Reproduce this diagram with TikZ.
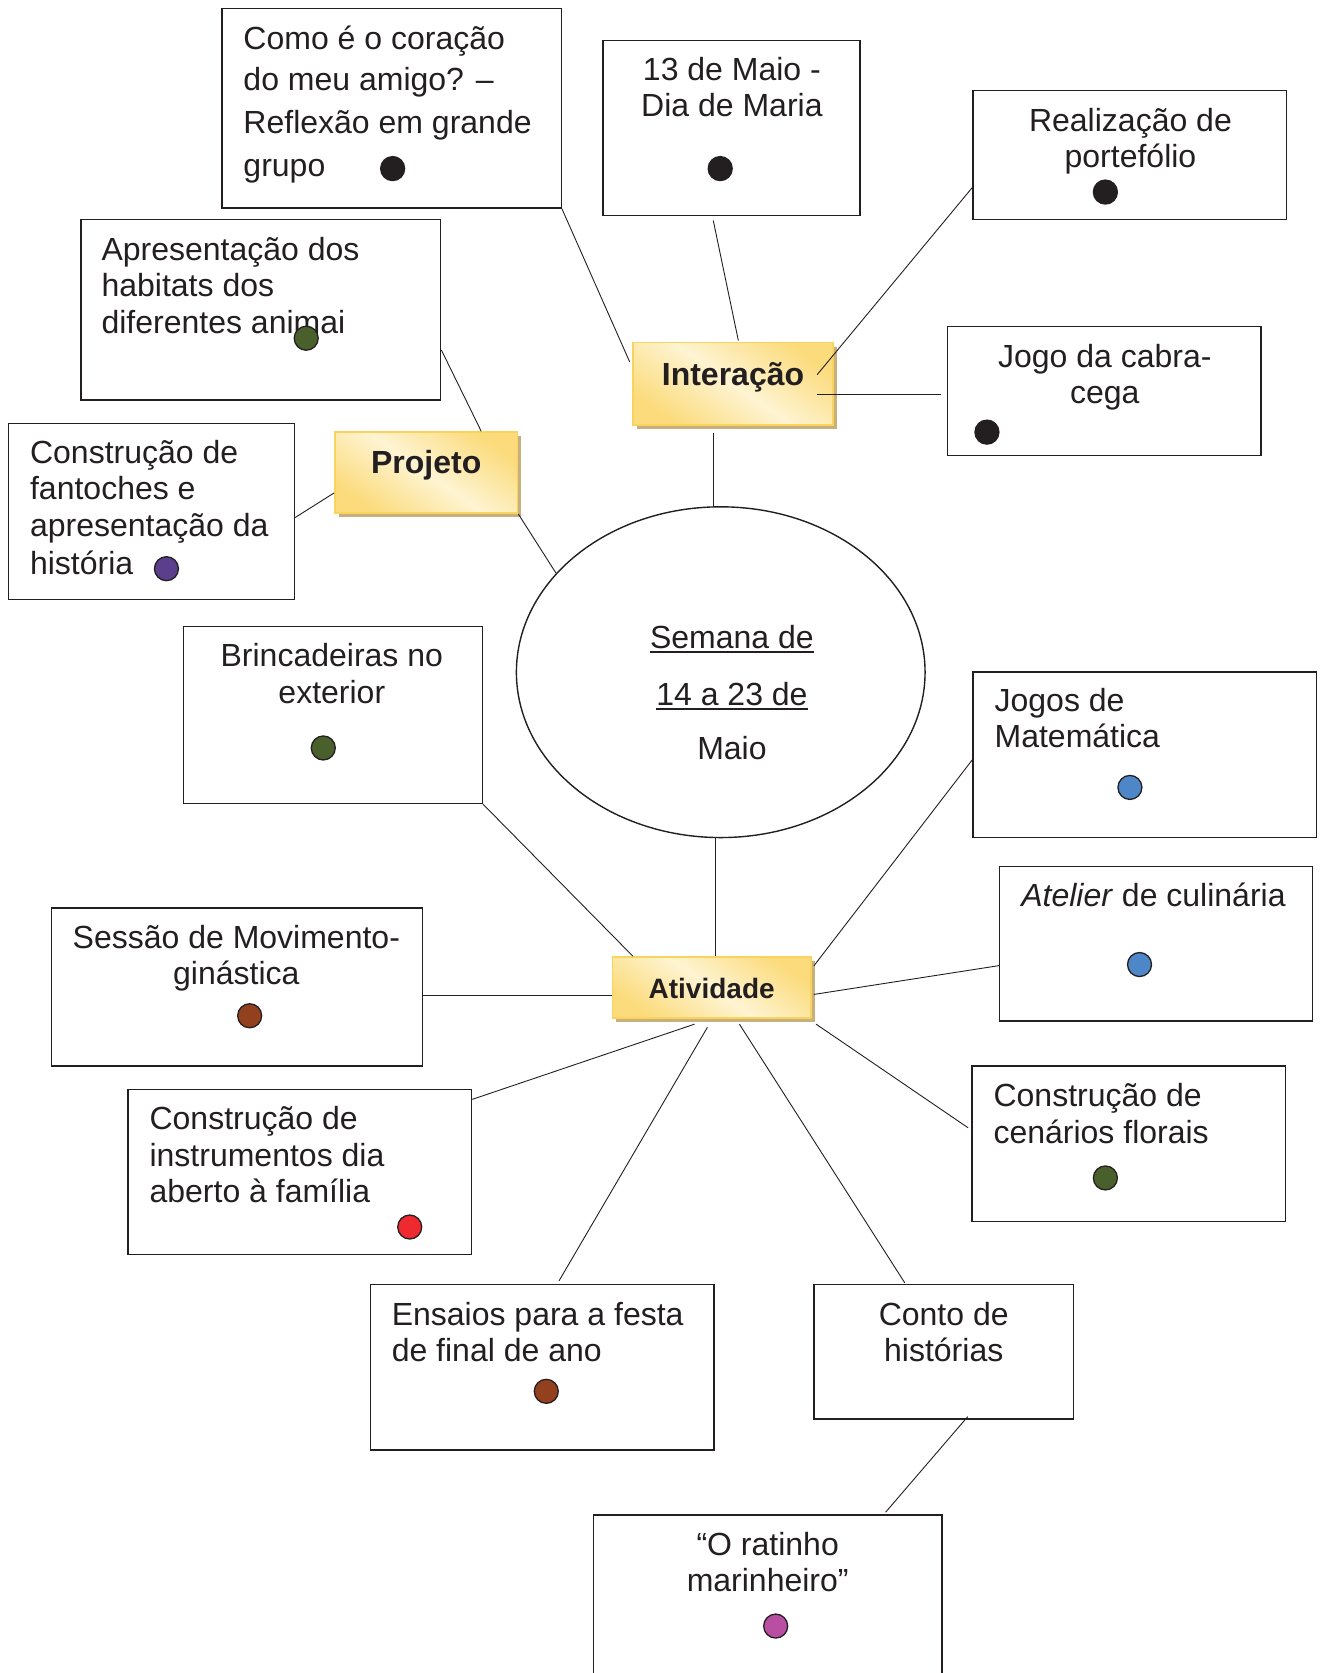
\documentclass[tikz,border=0pt]{standalone}
\usepackage{fontspec}
\setmainfont{Liberation Sans}
\usetikzlibrary{fit,shapes.geometric,shadows,calc}
\definecolor{ink}{HTML}{231F20}
\definecolor{ygold}{HTML}{F8D35E}
\definecolor{ypale}{HTML}{FEF4D2}
\definecolor{ydeep}{HTML}{FBDB7C}
\definecolor{ytan}{HTML}{C8B07C}
\definecolor{dblack}{HTML}{231F20}
\definecolor{dgreen}{HTML}{4A602C}
\definecolor{dpurple}{HTML}{5C3F8C}
\definecolor{dbrown}{HTML}{93401F}
\definecolor{dred}{HTML}{EE2A30}
\definecolor{dblue}{HTML}{4E87C8}
\definecolor{dmag}{HTML}{B84FA3}
\newcommand\myul[1]{\setbox0\hbox{#1}\rlap{\rule[-4.5pt]{\wd0}{1.8pt}}#1}
\begin{document}
\begin{tikzpicture}[x=1.0668pt,y=-1.0668pt,
  wbox/.style={draw=ink,line width=1.4pt,inner sep=0pt,fill=white},
  ybox/.style={draw=ygold,line width=1.8pt,inner sep=0pt,
    top color=ydeep,bottom color=ydeep,middle color=ypale,shading angle=-35,
    drop shadow={shadow xshift=4pt,shadow yshift=-4pt,fill=ytan,opacity=1}},
  conn/.style={draw=ink,line width=0.9pt},
  tc/.style={anchor=base,inner sep=0pt,text=ink,font=\fontsize{32}{38}\selectfont},
  tl/.style={tc,anchor=base west},
  tb/.style={tc,font=\fontsize{32}{38}\selectfont\bfseries},
  dot/.style={circle,draw=ink,line width=1.3pt,minimum size=24pt,inner sep=0pt}]
\useasboundingbox (0,0) rectangle (1242,1568);
\clip (0,0) rectangle (1242,1568);

% white boxes
\node[wbox,fit={(208,8)(526,195)}] (b1) {};
\node[wbox,fit={(565,38)(806,202)}] (b2) {};
\node[wbox,fit={(912,85)(1206,206)}] (b3) {};
\node[wbox,fit={(76,206)(413,375)}] (b4) {};
\node[wbox,fit={(888,306)(1182,427)}] (b5) {};
\node[wbox,fit={(8,397)(276,562)}] (b6) {};
\node[wbox,fit={(172,587)(452,753)}] (b7) {};
\node[wbox,fit={(912,630)(1234,785)}] (b8) {};
\node[wbox,fit={(937,812)(1230,957)}] (b9) {};
\node[wbox,fit={(48,851)(396,999)}] (b10) {};
\node[wbox,fit={(120,1021)(442,1176)}] (b11) {};
\node[wbox,fit={(911,999)(1205,1145)}] (b12) {};
\node[wbox,fit={(347,1204)(669,1359)}] (b13) {};
\node[wbox,fit={(763,1204)(1006,1330)}] (b14) {};
\node[wbox,fit={(556,1420)(883,1600)}] (b15) {};

% ellipse
\node[ellipse,draw=ink,line width=1.4pt,fill=white,inner sep=0pt,
  minimum width=408.6pt,minimum height=330.7pt] (ell) at (675.5,630) {};

% yellow boxes
\node[ybox,fit={(593,321)(781,398)}] (int) {};
\node[ybox,fit={(314,405)(485,481)}] (proj) {};
\node[ybox,fit={(574,897)(760,954)}] (atv) {};

% texts
\node[tl] (t1a) at (228,46) {Como é o coração};
\node[tl] (t1b) at (228,85) {do meu amigo? –};
\node[tl] (t1c) at (228,125) {Reflexão em grande};
\node[tl] (t1d) at (228,165) {grupo};
\node[tc] (t2a) at (686,75) {13 de Maio -};
\node[tc] (t2b) at (686,109) {Dia de Maria};
\node[tc] (t3a) at (1059.5,123) {Realização de};
\node[tc] (t3b) at (1059.5,157) {portefólio};
\node[tl] (t4a) at (95,244) {Apresentação dos};
\node[tl] (t4b) at (95,278) {habitats dos};
\node[tl] (t4c) at (95,313) {diferentes animai};
\node[tc] (t5a) at (1035.5,344) {Jogo da cabra-};
\node[tc] (t5b) at (1035.5,378) {cega};
\node[tl] (t6a) at (28,434) {Construção de};
\node[tl] (t6b) at (28,468) {fantoches e};
\node[tl] (t6c) at (28,503) {apresentação da};
\node[tl] (t6d) at (28,538) {história};
\node[tc] (t7a) at (311,625) {Brincadeiras no};
\node[tc] (t7b) at (311,659) {exterior};
\node[tl] (t8a) at (932,667) {Jogos de};
\node[tl] (t8b) at (932,701) {Matemática};
\node[tl] (t9a) at (957,850) {\textit{Atelier} de culinária};
\node[tc] (t10a) at (221.5,889) {Sessão de Movimento-};
\node[tc] (t10b) at (221.5,923) {ginástica};
\node[tl] (t11a) at (140,1059) {Construção de};
\node[tl] (t11b) at (140,1093) {instrumentos dia};
\node[tl] (t11c) at (140,1127) {aberto à família};
\node[tl] (t12a) at (931,1037) {Construção de};
\node[tl] (t12b) at (931,1072) {cenários florais};
\node[tl] (t13a) at (367,1242) {Ensaios para a festa};
\node[tl] (t13b) at (367,1276) {de final de ano};
\node[tc] (t14a) at (884.5,1242) {Conto de};
\node[tc] (t14b) at (884.5,1276) {histórias};
\node[tc] (t15a) at (719.5,1458) {“O ratinho};
\node[tc] (t15b) at (719.5,1492) {marinheiro”};

\node[tc] (e1) at (686,608) {\myul{Semana de}};
\node[tc] (e2) at (686,661) {\myul{14 a 23 de}};
\node[tc] (e3) at (686,712) {Maio};

\node[tb] (lint) at (687,361) {Interação};
\node[tb] (lproj) at (399.5,444) {Projeto};
\node[tb,font=\fontsize{28}{34}\selectfont\bfseries] (latv) at (667,936) {Atividade};

% dots
\node[dot,fill=dblack] (d1) at (368,158) {};
\node[dot,fill=dblack] (d2) at (675,158) {};
\node[dot,fill=dblack] (d3) at (1036,180) {};
\node[dot,fill=dgreen] (d4) at (287,317) {};
\node[dot,fill=dblack] (d5) at (925,405) {};
\node[dot,fill=dpurple] (d6) at (156,533) {};
\node[dot,fill=dgreen] (d7) at (303,701) {};
\node[dot,fill=dblue] (d8) at (1059,738) {};
\node[dot,fill=dblue] (d9) at (1068,904) {};
\node[dot,fill=dbrown] (d10) at (234,952) {};
\node[dot,fill=dred] (d11) at (384,1150) {};
\node[dot,fill=dgreen] (d12) at (1036,1104) {};
\node[dot,fill=dbrown] (d13) at (512,1304) {};
\node[dot,fill=dmag] (d15) at (727,1524) {};

% connectors
\draw[conn] (b1.south east) -- ($(int.north west)+(-2,19)$);
\draw[conn] ($(b2.south)+(-17,4)$) -- ($(int.north)+(5,-1)$);
\draw[conn] ($(b3.south west)+(0,-31)$) -- ($(int.north east)+(-16,31)$);
\draw[conn] ($(b5.west)+(-5,3.5)$) -- ($(int.east)+(-16,10.5)$);
\draw[conn] ($(ell.north)+(-6.5,0)$) -- ($(int.south)+(-18,7)$);
\draw[conn] ($(b4.east)+(0,37.5)$) -- ($(proj.north)+(51.5,0)$);
\draw[conn] ($(b6.east)+(0,5.5)$) -- ($(proj.west)+(0,19)$);
\draw[conn] (proj.south east) -- (ell.149);
\draw[conn] ($(ell.south)+(-4.5,0)$) -- ($(atv.north)+(4,0)$);
\draw[conn] (b7.south east) -- ($(atv.north west)+(20,0)$);
\draw[conn] ($(b8.west)+(0,4.5)$) -- ($(atv.north east)+(2,9)$);
\draw[conn] ($(b9.west)+(0,20.5)$) -- ($(atv.east)+(2,6.5)$);
\draw[conn] ($(b10.east)+(0,8)$) -- ($(atv.west)+(0,7.5)$);
\draw[conn] ($(b11.north east)+(0,10)$) -- ($(atv.south)+(-16,5)$);
\draw[conn] ($(b13.north)+(16,-3)$) -- ($(atv.south)+(-4,8)$);
\draw[conn] ($(b14.north)+(-36.5,-1)$) -- ($(atv.south)+(26,5)$);
\draw[conn] ($(b12.west)+(-3,-15)$) -- ($(atv.south east)+(4,5)$);
\draw[conn] ($(b14.south)+(22.5,-3)$) -- ($(b15.north)+(110.5,-2)$);
\end{tikzpicture}
\end{document}
